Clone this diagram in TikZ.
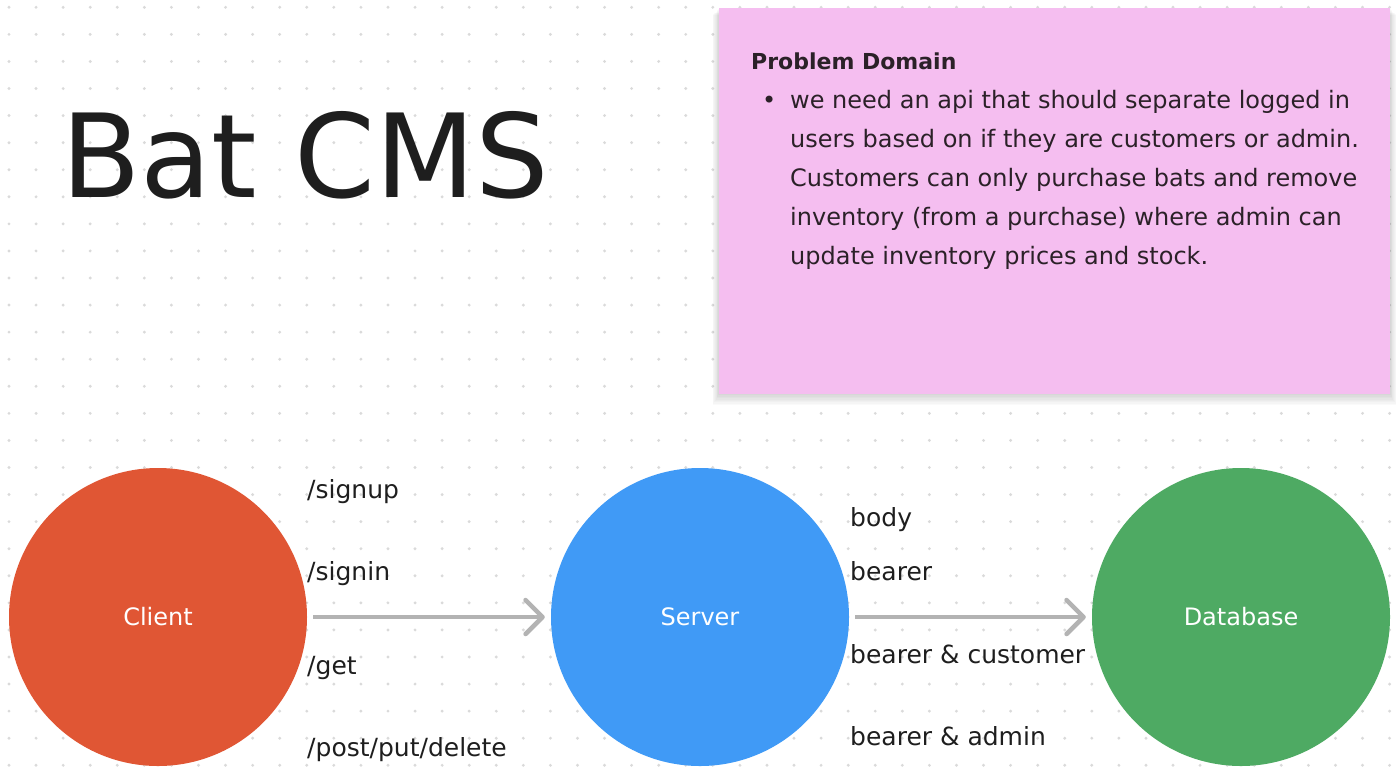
\documentclass[tikz,border=0pt]{standalone}
\usepackage{fontspec}
\setmainfont{DejaVu Sans}
\usepackage{xcolor}
\usepackage{tikz}
\usetikzlibrary{positioning, arrows.meta}

\definecolor{inkdark}{RGB}{30,30,30}
\definecolor{notetext}{RGB}{43,33,40}
\definecolor{notepink}{RGB}{245,190,240}
\definecolor{dotgray}{RGB}{218,218,218}
\definecolor{arrowgray}{RGB}{179,179,179}
\definecolor{clientred}{RGB}{224,86,52}
\definecolor{serverblue}{RGB}{64,154,246}
\definecolor{dbgreen}{RGB}{78,170,99}

\begin{document}
\begin{tikzpicture}[
    x=1pt, y=-1pt,
    endpoint/.style={circle, minimum size=298pt, inner sep=0pt, text=white, font=\fontsize{24}{28}\selectfont},
    route/.style={font=\fontsize{25}{30}\selectfont, text=inkdark, anchor=base west, inner sep=0pt},
    notetitle/.style={font=\fontsize{22}{26}\selectfont\bfseries, text=notetext, anchor=base west, inner sep=0pt},
    noteline/.style={font=\fontsize{24}{28}\selectfont, text=notetext, anchor=base west, inner sep=0pt},
    flow/.style={draw=arrowgray, line width=4.5pt, -{Straight Barb[length=17pt, width=34pt, round]}, shorten <=6pt, shorten >=6pt}
]

% Canvas and dotted grid
\fill[white] (0,0) rectangle (1396,780);
\useasboundingbox (0,0) rectangle (1396,780);
\foreach \i in {0,...,51} {
    \foreach \j in {0,...,28} {
        \fill[dotgray] (9+27.07*\i, 7.3+27.07*\j) circle (1.6pt);
    }
}

% Title
\node[font=\fontsize{116}{126}\selectfont, text=inkdark, anchor=base west, inner sep=0pt] (title) at (61, 197) {Bat CMS};

% Sticky note with a soft shadow underneath
\foreach \k in {1,...,8} {
    \fill[black, opacity=0.018] (719-0.8*\k, 8+0.9*\k) rectangle (1390+0.8*\k, 394+1.4*\k);
}
\node[fill=notepink, minimum width=671pt, minimum height=386pt, anchor=north west, inner sep=0pt] (note) at (719, 8) {};
\node[notetitle] (notehead) at (751, 69) {Problem Domain};
\node[noteline] (bullet) at (762, 108) {•};
\foreach \n/\txt in {0/we need an api that should separate logged in,
                     1/users based on if they are customers or admin.,
                     2/Customers can only purchase bats and remove,
                     3/inventory (from a purchase) where admin can,
                     4/update inventory prices and stock.} {
    \node[noteline] (line\n) at (790, 108+39*\n) {\txt};
}

% Client, server, database
\node[endpoint, fill=clientred] (client) at (158, 617) {Client};
\node[endpoint, fill=serverblue] (server) at (700, 617) {Server};
\node[endpoint, fill=dbgreen] (database) at (1241, 617) {Database};

\draw[flow] (client) -- (server);
\draw[flow] (server) -- (database);

% Routes between client and server
\node[route] (signup) at (307, 498) {/signup};
\node[route] (signin) at (307, 580) {/signin};
\node[route] (get) at (307, 674) {/get};
\node[route] (ppd) at (307, 756) {/post/put/delete};

% Auth between server and database
\node[route] (body) at (850, 526) {body};
\node[route] (bearer) at (850, 580) {bearer};
\node[route] (bcust) at (850, 663) {bearer \& customer};
\node[route] (badmin) at (850, 745) {bearer \& admin};

\end{tikzpicture}
\end{document}
